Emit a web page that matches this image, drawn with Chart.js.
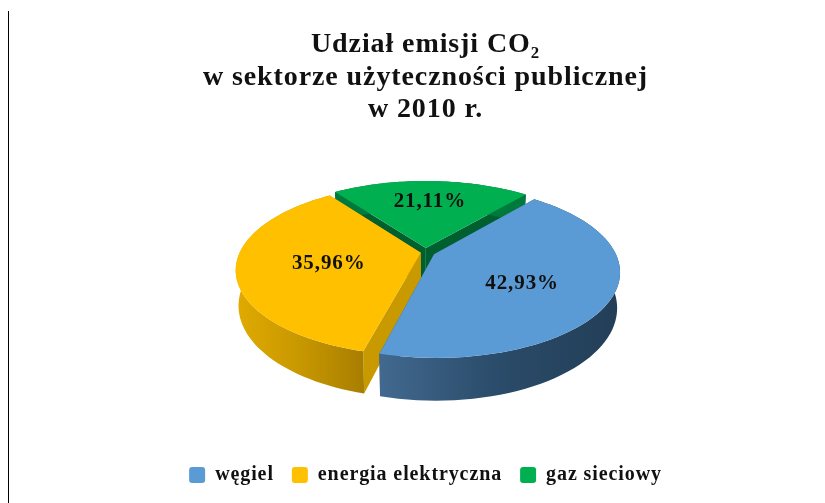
<!DOCTYPE html>
<html lang="pl">
<head>
<meta charset="utf-8">
<title>Udział emisji CO2</title>
<script src="https://cdn.jsdelivr.net/npm/chart.js@4"></script>
<style>
  html, body { margin: 0; background: #fff; }
  canvas { display: block; }
</style>
</head>
<body>
<canvas id="chart" width="825" height="503"></canvas>
<script>
const TITLE_LINES = ['Udział emisji CO₂', 'w sektorze użyteczności publicznej', 'w 2010 r.'];
const CATEGORIES = ['węgiel', 'energia elektryczna', 'gaz sieciowy'];
const SHARES = [42.93, 35.96, 21.11];

const COLORS = ['#5B9BD5', '#FFC000', '#00B050'];
const WALL_STOPS = [['#42698f', '#2a4b69', '#233e57'], ['#e0aa00', '#c89800', '#a87e00'], ['#007a3c', '#007a3c', '#007a3c']];
const CUT_WALLS = ['#2f5478', '#c99a00', '#005f2e'];
const LABEL_NUDGE = [[-6, 7], [8, 2], [1, -7]];
const SERIF = '"Liberation Serif", serif';

// tilted pie: circle of the arc element -> screen, with some perspective
const VIEW = { rx: 181, ry: 82, persp: 0.2, depth: 34, bottomScale: 0.985, shiftY: -39 };

function project(el, ang, f, down) {
  const d = el.options.offset / el.outerRadius;
  const mid = (el.startAngle + el.endAngle) / 2;
  const u = Math.cos(ang) * f + Math.cos(mid) * d;
  const v = Math.sin(ang) * f + Math.sin(mid) * d;
  const w = 1 / (1 - VIEW.persp * v);
  const sx = down ? VIEW.bottomScale : 1;
  return {
    x: el.x + VIEW.rx * u * w * sx,
    y: el.y + VIEW.shiftY + VIEW.ry * v * w + (down ? VIEW.depth * w : 0)
  };
}

function arcPoints(el, down) {
  const pts = [];
  const steps = 64;
  for (let i = 0; i <= steps; i++) {
    const a = el.startAngle + (el.endAngle - el.startAngle) * i / steps;
    pts.push(project(el, a, 1, down));
  }
  return pts;
}

function tracePath(ctx, pts) {
  ctx.beginPath();
  pts.forEach((p, i) => i ? ctx.lineTo(p.x, p.y) : ctx.moveTo(p.x, p.y));
  ctx.closePath();
}

function drawSlice(ctx, el, i) {
  const top = arcPoints(el, false);
  const bottom = arcPoints(el, true);
  const apexTop = project(el, 0, 0, false);
  const apexBottom = project(el, 0, 0, true);

  // cut faces
  ctx.fillStyle = CUT_WALLS[i];
  tracePath(ctx, [apexTop, top[0], bottom[0], apexBottom]);
  ctx.fill();
  tracePath(ctx, [apexTop, top[top.length - 1], bottom[bottom.length - 1], apexBottom]);
  ctx.fill();

  // rim
  const xs = top.map(p => p.x);
  const grad = ctx.createLinearGradient(Math.min(...xs), 0, Math.max(...xs), 0);
  WALL_STOPS[i].forEach((c, k) => grad.addColorStop(k / (WALL_STOPS[i].length - 1), c));
  ctx.fillStyle = grad;
  tracePath(ctx, top.concat(bottom.slice().reverse()));
  ctx.fill();

  // top face
  ctx.fillStyle = COLORS[i];
  tracePath(ctx, [apexTop].concat(top));
  ctx.fill();
}

const pie3d = {
  id: 'pie3d',
  beforeUpdate(chart) {
    // the original text is set wide
    chart.ctx.letterSpacing = '0.9px';
  },
  beforeDatasetDraw(chart, args) {
    const ctx = chart.ctx;
    const arcs = chart.getDatasetMeta(args.index).data;
    ctx.save();
    // back to front
    [2, 1, 0].forEach(i => drawSlice(ctx, arcs[i], i));
    ctx.font = 'bold 21px ' + SERIF;
    ctx.fillStyle = '#111';
    ctx.textAlign = 'center';
    ctx.textBaseline = 'middle';
    arcs.forEach((el, i) => {
      const mid = (el.startAngle + el.endAngle) / 2;
      const p = project(el, mid, 0.55, false);
      ctx.fillText(SHARES[i].toFixed(2).replace('.', ',') + '%', p.x + LABEL_NUDGE[i][0], p.y + LABEL_NUDGE[i][1]);
    });
    // vertical rule on the left of the page
    ctx.strokeStyle = '#000';
    ctx.lineWidth = 1;
    ctx.beginPath();
    ctx.moveTo(8.5, 11);
    ctx.lineTo(8.5, 503);
    ctx.stroke();
    ctx.restore();
    return false;
  }
};

new Chart(document.getElementById('chart'), {
  type: 'pie',
  data: {
    labels: CATEGORIES,
    datasets: [{ data: SHARES, backgroundColor: COLORS, offset: [8, 4, 8], borderWidth: 0 }]
  },
  options: {
    responsive: false,
    animation: false,
    rotation: 40,
    layout: { padding: { left: 26, top: 29, bottom: 8 } },
    plugins: {
      tooltip: { enabled: false },
      title: {
        display: true,
        text: TITLE_LINES,
        color: '#111',
        font: { family: SERIF, size: 28, weight: 'bold', lineHeight: 1.15 },
        padding: { top: 0, bottom: 10 }
      },
      legend: {
        position: 'bottom',
        labels: {
          color: '#111',
          font: { family: SERIF, size: 20, weight: 'bold' },
          boxWidth: 16,
          boxHeight: 16,
          useBorderRadius: true,
          borderRadius: 3,
          padding: 18
        }
      }
    }
  },
  plugins: [pie3d]
});
</script>
</body>
</html>
